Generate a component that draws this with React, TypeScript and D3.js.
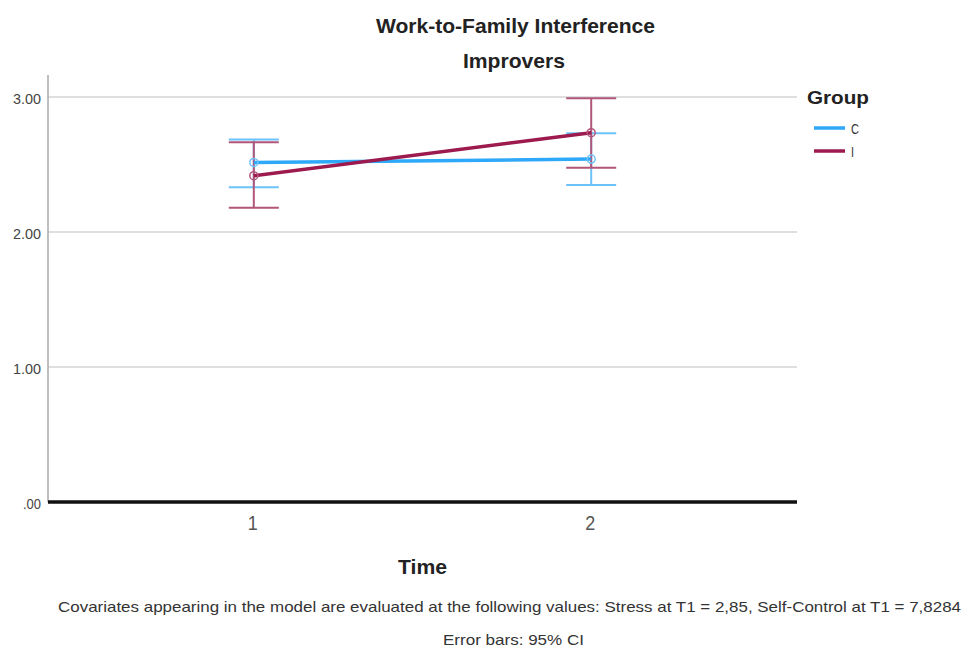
import React from 'react';
import * as d3 from 'd3';

const times = ['1', '2'];
const groups = ['C', 'I'];
const meansC = [2.515, 2.54];
const lowerC = [2.332, 2.348];
const upperC = [2.685, 2.731];
const meansI = [2.417, 2.736];
const lowerI = [2.18, 2.476];
const upperI = [2.665, 2.99];
const yTicks = [0, 1, 2, 3];
const yTickLabels = ['.00', '1.00', '2.00', '3.00'];

const colors: Record<string, string> = { C: '#2ea8f8', I: '#9c1a4e' };
const barColors: Record<string, string> = { C: '#6cc2fb', I: '#b15679' };

const W = 974;
const H = 650;
const left = 48;
const right = 797;
const top = 75;
const bottom = 502;

const App = () => {
    const x = d3.scalePoint<string>().domain(times).range([left, right]).padding(0.61);
    // 135px per unit, as in the original
    const y = d3.scaleLinear().domain([0, (bottom - top) / 135]).range([bottom, top]);

    const series = [
        { g: 'C', mean: meansC, lo: lowerC, hi: upperC },
        { g: 'I', mean: meansI, lo: lowerI, hi: upperI },
    ];

    const line = d3
        .line<number>()
        .x((_, i) => x(times[i]) as number)
        .y((d) => y(d));

    const font = '"Liberation Sans", Arial, sans-serif';
    const fit = 'spacingAndGlyphs';
    const cap = 25;

    return (
        <svg width={W} height={H} style={{ position: 'absolute', left: 0, top: 0, background: '#fff' }}>
            <text x={515.5} y={33} textAnchor="middle" fontFamily={font} fontWeight="bold" fontSize={21} fill="#222"
                textLength={279} lengthAdjust={fit}>
                Work-to-Family Interference
            </text>
            <text x={514} y={68} textAnchor="middle" fontFamily={font} fontWeight="bold" fontSize={21} fill="#222"
                textLength={102} lengthAdjust={fit}>
                Improvers
            </text>

            {/* grid lines */}
            {yTicks.filter((t) => t > 0).map((t) => (
                <line key={t} x1={left} x2={right} y1={y(t)} y2={y(t)} stroke="#d4d4d4" strokeWidth={1.5} />
            ))}
            {yTicks.map((t, i) => (
                <text key={'l' + t} x={41} y={y(t) + 7} textAnchor="end" fontFamily={font} fontSize={14} fill="#444"
                    textLength={t === 0 ? 18 : 28} lengthAdjust={fit}>
                    {yTickLabels[i]}
                </text>
            ))}
            <line x1={left} x2={left} y1={top} y2={bottom} stroke="#aaa" strokeWidth={1.5} />
            <line x1={left} x2={right} y1={bottom} y2={bottom} stroke="#111" strokeWidth={3.5} />

            {times.map((t) => (
                <text key={t} x={(x(t) as number) - 1} y={530} textAnchor="middle" fontFamily={font} fontSize={20} fill="#555"
                    textLength={10} lengthAdjust={fit}>
                    {t}
                </text>
            ))}
            <text x={422.5} y={574} textAnchor="middle" fontFamily={font} fontWeight="bold" fontSize={21} fill="#222"
                textLength={49} lengthAdjust={fit}>
                Time
            </text>

            {/* error bars */}
            {series.map((s) =>
                times.map((t, i) => {
                    const cx = x(t) as number;
                    return (
                        <g key={s.g + t} stroke={barColors[s.g]} strokeWidth={2}>
                            <line x1={cx} x2={cx} y1={y(s.lo[i])} y2={y(s.hi[i])} />
                            <line x1={cx - cap} x2={cx + cap} y1={y(s.lo[i])} y2={y(s.lo[i])} />
                            <line x1={cx - cap} x2={cx + cap} y1={y(s.hi[i])} y2={y(s.hi[i])} />
                        </g>
                    );
                })
            )}

            {/* mean lines */}
            {series.map((s) => (
                <g key={s.g}>
                    <path d={line(s.mean) as string} fill="none" stroke={colors[s.g]} strokeWidth={3.5} />
                    {s.mean.map((m, i) => (
                        <circle key={i} cx={x(times[i])} cy={y(m)} r={4} fill="none" stroke={barColors[s.g]} strokeWidth={1.5} />
                    ))}
                </g>
            ))}

            {/* legend */}
            <text x={807} y={103.5} fontFamily={font} fontWeight="bold" fontSize={19} fill="#222"
                textLength={62} lengthAdjust={fit}>
                Group
            </text>
            {groups.map((g, i) => (
                <g key={g}>
                    <line x1={814} x2={845} y1={128 + i * 23} y2={128 + i * 23} stroke={colors[g]} strokeWidth={3.5} />
                    <text x={851} y={134 + i * 23} fontFamily={font} fontSize={15} fill="#333"
                        textLength={g === 'C' ? 8 : 3} lengthAdjust={fit}>
                        {g}
                    </text>
                </g>
            ))}

            <text x={509.5} y={612} textAnchor="middle" fontFamily={font} fontSize={15} fill="#333"
                textLength={903} lengthAdjust={fit}>
                Covariates appearing in the model are evaluated at the following values: Stress at T1 = 2,85, Self-Control at T1 = 7,8284
            </text>
            <text x={513.5} y={645} textAnchor="middle" fontFamily={font} fontSize={15} fill="#333"
                textLength={141} lengthAdjust={fit}>
                Error bars: 95% CI
            </text>
        </svg>
    );
};

export default App;
